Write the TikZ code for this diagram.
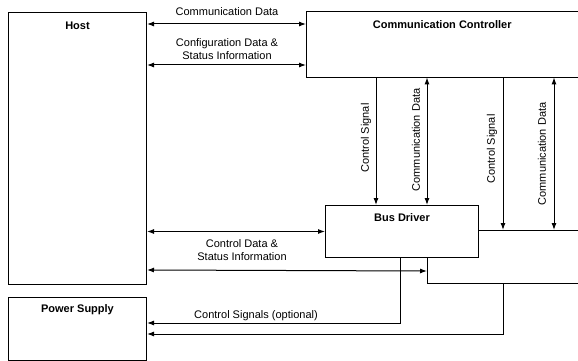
\documentclass[tikz,border=0pt]{standalone}
\usepackage{fontspec}
\setmainfont{Liberation Sans}
\usetikzlibrary{arrows.meta}
\begin{document}
\begin{tikzpicture}[x=1pt,y=-1pt,
  box/.style={draw, line width=1pt, inner sep=0pt, anchor=north west},
  ghost/.style={inner sep=0pt, anchor=north west},
  ttl/.style={font=\fontsize{11}{13}\selectfont\bfseries, inner sep=1pt},
  lbl/.style={font=\fontsize{11}{13}\selectfont, align=center, inner sep=1pt},
  ln/.style={line width=1pt},
  arr/.style={ln, -{Latex[length=7pt,width=5pt]}},
  dbl/.style={ln, {Latex[length=7pt,width=5pt]}-{Latex[length=7pt,width=5pt]}}]
\useasboundingbox (0,0) rectangle (578,361);

% boxes
\node[box, minimum width=138pt, minimum height=272pt] (host) at (8,12) {};
\node[box, minimum width=138pt, minimum height=63pt] (ps) at (8,297) {};
\node[box, minimum width=153pt, minimum height=52pt] (bd) at (325,205) {};
\node[ghost, minimum width=272pt, minimum height=65pt] (cc) at (306,12) {};
\draw[ln] (cc.north east) -- (cc.north west) -- (cc.south west) -- (cc.south east);
\node[ghost, minimum width=151pt, minimum height=53pt] (bd2) at (427,230) {};
\draw[ln] (bd.east |- bd2.north) -- (bd2.north east);
\draw[ln] (bd.south -| bd2.west) -- (bd2.south west) -- (bd2.south east);

% titles
\node[ttl] (hostt) at ([yshift=-14pt]host.north) {Host};
\node[ttl] (pst) at ([yshift=-13pt]ps.north) {Power Supply};
\node[ttl] (cct) at ([yshift=-13pt]cc.north) {Communication Controller};
\node[ttl] (bdt) at ([yshift=-13pt]bd.north) {Bus Driver};

% host <-> controller
\draw[dbl] ([yshift=-12pt]host.north east) -- ([yshift=-12pt]cc.north west);
\node[lbl] (l1) at (227,12) {Communication Data};
\draw[dbl] ([yshift=-53pt]host.north east) -- ([yshift=-53pt]cc.north west);
\node[lbl] (l2) at (227,49) {Configuration Data \&\\Status Information};

% controller <-> bus drivers
\draw[arr] ([xshift=70pt]cc.south west) -- ([xshift=51pt]bd.north west);
\node[lbl, rotate=90] (l3) at (366,138) {Control Signal};
\draw[dbl] ([xshift=121pt]cc.south west) -- ([xshift=102pt]bd.north west);
\node[lbl, rotate=90] (l4) at (416,140) {Communication Data};
\draw[arr] ([xshift=197pt]cc.south west) -- ([xshift=76pt]bd2.north west);
\node[lbl, rotate=90] (l5) at (492,149) {Control Signal};
\draw[dbl] ([xshift=248pt]cc.south west) -- ([xshift=127pt]bd2.north west);
\node[lbl, rotate=90] (l6) at (542,154) {Communication Data};

% host <-> bus drivers
\draw[dbl] (host.east |- bd.west) -- (bd.west);
\draw[dbl] ([yshift=-258pt]host.north east) -- ([yshift=-13pt]bd.south -| bd2.west);
\node[lbl] (l7) at (242,250) {Control Data \&\\Status Information};

% bus drivers -> power supply
\draw[arr] ([xshift=-2pt]bd.south) |- ([yshift=-26pt]ps.north east);
\draw[arr] ([xshift=76pt]bd2.south west) |- ([yshift=-37pt]ps.north east);
\node[lbl] (l8) at (256,316) {Control Signals (optional)};
\end{tikzpicture}
\end{document}
